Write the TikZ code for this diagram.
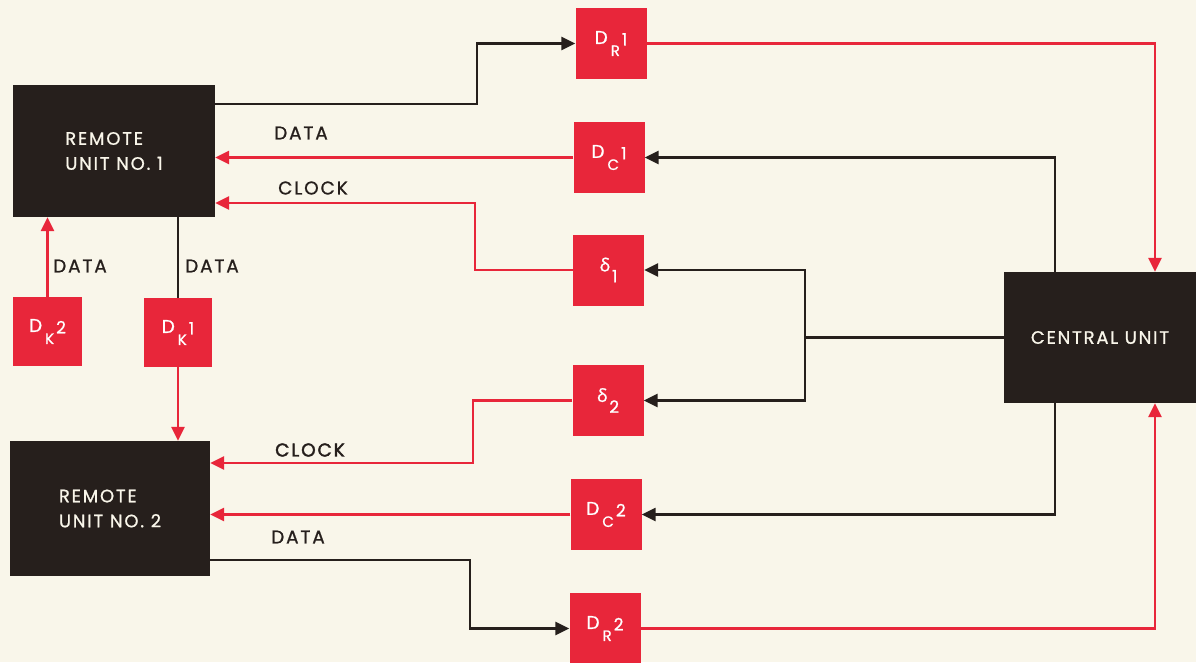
\documentclass[tikz,border=0pt]{standalone}
\usepackage{fontspec}
\setmainfont{Poppins}[FakeBold=0.9, LetterSpace=10]
\newfontfamily\grk{Open Sans}[FakeBold=0.9]
\newfontfamily\semib{Poppins}[FakeBold=2.2, LetterSpace=10]
\usetikzlibrary{arrows.meta}
\definecolor{bg}{RGB}{249,246,234}
\definecolor{rd}{RGB}{232,38,58}
\definecolor{blk}{RGB}{38,31,28}
\newcommand\dlab[3]{{\fontsize{18.5}{18}\selectfont #1}\hspace{3pt}\raisebox{-12pt}{\fontsize{15}{14}\selectfont #2}\hspace{2pt}\raisebox{-1.5pt}{\fontsize{17}{16}\selectfont #3}}
\newcommand\delab[1]{{\fontsize{18}{17}\grk δ}\hspace{2pt}\raisebox{-11pt}{\fontsize{17}{16}\selectfont #1}}
\begin{document}
\begin{tikzpicture}[x=1pt,y=-1pt,
  redbox/.style={fill=rd, minimum width=71pt, minimum height=71pt, inner sep=0pt, text=white},
  unitbox/.style={fill=blk, text=bg, inner sep=0pt, align=left, font=\fontsize{18}{25}\selectfont},
  rl/.style={draw=rd, line width=2.8pt},
  bl/.style={draw=blk, line width=2.5pt},
  arr/.style={-{Triangle[length=14pt,width=13pt]}},
  lab/.style={text=blk, inner sep=0pt, font=\fontsize{18.5}{20}\selectfont}
]
\useasboundingbox (0,0) rectangle (1196,662);
\fill[bg] (0,0) rectangle (1196,662);

% units
\node[unitbox, minimum width=202pt, minimum height=132pt] (ru1) at (114,151) {REMOTE\\UNIT NO. 1};
\node[unitbox, minimum width=200pt, minimum height=135pt] (ru2) at (110,508.5) {REMOTE\\UNIT NO. 2};
\node[unitbox, minimum width=196pt, minimum height=131pt] (cu) at (1102,337.5) {CENTRAL UNIT\hspace{4pt}};

% red boxes
\node[redbox] (dr1) at (611,43.5) {\dlab{D}{R}{1}};
\node[redbox] (dc1) at (609,157.5) {\dlab{D}{C}{1}};
\node[redbox] (d1) at (608.5,270) {\delab{1}};
\node[redbox] (d2) at (608,400.5) {\delab{2}};
\node[redbox] (dc2) at (606,514.5) {\dlab{D}{C}{2}};
\node[redbox] (dr2) at (605,628.5) {\dlab{D}{R}{2}};
\node[redbox, minimum width=69pt, minimum height=69pt] (dk2) at (47.5,331.5) {\dlab{D}{K}{2}};
\node[redbox, minimum width=68pt, minimum height=69pt] (dk1) at (178,332.5) {\dlab{D}{K}{1}};

% connectors
\draw[bl,arr] ([yshift=47pt]ru1.east) -- (477,104) |- (dr1.west);
\draw[rl,arr] (dr1.east) -| ([xshift=53pt]cu.north);
\draw[bl,arr] ([xshift=-47pt]cu.north) |- (dc1.east);
\draw[rl,arr] (dc1.west) -- (dc1.west -| ru1.east);
\draw[rl,arr] (d1.west) -| (475,203) -- ([yshift=-52pt]ru1.east);
\coordinate (sp) at (805,337.5);
\draw[bl] (cu.west) -- (sp);
\draw[bl,arr] (sp) |- (d1.east);
\draw[bl,arr] (sp) |- (d2.east);
\draw[rl,arr] (d2.west) -| (473,463) -- ([yshift=45.5pt]ru2.east);
\draw[rl,arr] (dc2.west) -- (dc2.west -| ru2.east);
\draw[bl,arr] ([xshift=-47pt]cu.south) |- (dc2.east);
\draw[bl,arr] ([yshift=-51.5pt]ru2.east) -- (470,560) |- (dr2.west);
\draw[rl,arr] (dr2.east) -| ([xshift=53pt]cu.south);
\draw[rl,arr] (dk2.north) -- (dk2.north |- ru1.south);
\draw[bl] (dk1.north) -- (dk1.north |- ru1.south);
\draw[rl,arr] (dk1.south) -- (dk1.south |- ru2.north);

% labels
\node[lab] (l1) at (301,133) {DATA};
\node[lab] (l2) at (313,188) {CLOCK};
\node[lab] (l3) at (80,266) {DATA};
\node[lab] (l4) at (212,266) {DATA};
\node[lab, font=\fontsize{18.5}{20}\semib] (l5) at (310,450) {CLOCK};
\node[lab] (l6) at (298,537) {DATA};
\end{tikzpicture}
\end{document}
